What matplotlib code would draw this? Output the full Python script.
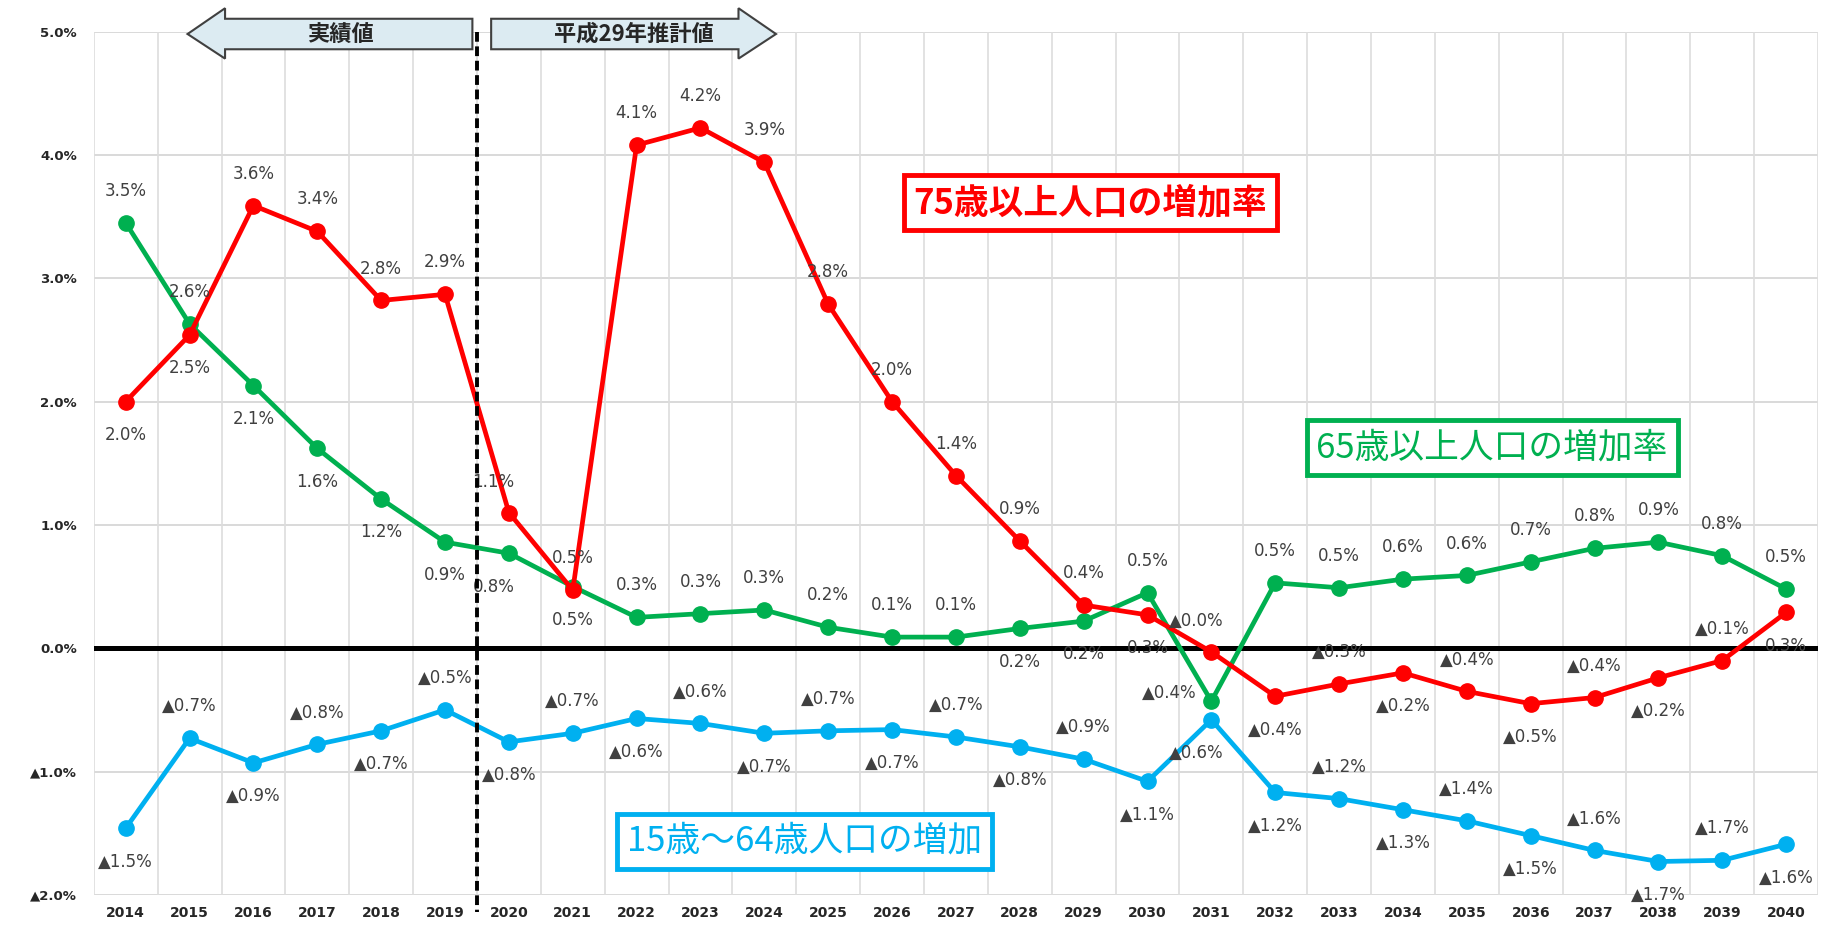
import matplotlib
matplotlib.use("Agg")
import matplotlib.pyplot as plt
from matplotlib.patches import Polygon
import numpy as np

plt.rcParams['font.family'] = ['DejaVu Sans', 'Noto Sans CJK JP']

years = [str(y) for y in range(2014, 2041)]

rate75 = [2.00, 2.54, 3.59, 3.38, 2.82, 2.87, 1.10, 0.47, 4.08, 4.22, 3.94, 2.79, 2.00, 1.40,
          0.87, 0.35, 0.27, -0.03, -0.39, -0.29, -0.20, -0.35, -0.45, -0.40, -0.24, -0.10, 0.29]
lab75 = ["2.0%", "2.5%", "3.6%", "3.4%", "2.8%", "2.9%", "1.1%", "0.5%", "4.1%", "4.2%", "3.9%",
         "2.8%", "2.0%", "1.4%", "0.9%", "0.4%", "0.3%", "▲0.0%", "▲0.4%", "▲0.3%", "▲0.2%",
         "▲0.4%", "▲0.5%", "▲0.4%", "▲0.2%", "▲0.1%", "0.3%"]
pos75 = "bbaaaaLaaaaaaaaabLbabababab"

rate65 = [3.45, 2.63, 2.13, 1.62, 1.21, 0.86, 0.77, 0.50, 0.25, 0.28, 0.31, 0.17, 0.09, 0.09,
          0.16, 0.22, 0.45, -0.43, 0.53, 0.49, 0.56, 0.59, 0.70, 0.81, 0.86, 0.75, 0.48]
lab65 = ["3.5%", "2.6%", "2.1%", "1.6%", "1.2%", "0.9%", "0.8%", "0.5%", "0.3%", "0.3%", "0.3%",
         "0.2%", "0.1%", "0.1%", "0.2%", "0.2%", "0.5%", "▲0.4%", "0.5%", "0.5%", "0.6%",
         "0.6%", "0.7%", "0.8%", "0.9%", "0.8%", "0.5%"]
pos65 = "aabbbbMbaaaaaabbalaaaaaaaaa"

rate1564 = [-1.46, -0.73, -0.93, -0.78, -0.67, -0.50, -0.76, -0.69, -0.57, -0.61, -0.69, -0.67,
            -0.66, -0.72, -0.80, -0.90, -1.08, -0.58, -1.17, -1.22, -1.31, -1.40, -1.52, -1.64,
            -1.73, -1.72, -1.59]
lab1564 = ["▲1.5%", "▲0.7%", "▲0.9%", "▲0.8%", "▲0.7%", "▲0.5%", "▲0.8%", "▲0.7%", "▲0.6%",
           "▲0.6%", "▲0.7%", "▲0.7%", "▲0.7%", "▲0.7%", "▲0.8%", "▲0.9%", "▲1.1%", "▲0.6%",
           "▲1.2%", "▲1.2%", "▲1.3%", "▲1.4%", "▲1.5%", "▲1.6%", "▲1.7%", "▲1.7%", "▲1.6%"]
pos1564 = "babababababababab" + "Mb" + "abababab"

yticks = [-2, -1, 0, 1, 2, 3, 4, 5]
ytick_labels = ["▲2.0%", "▲1.0%", "0.0%", "1.0%", "2.0%", "3.0%", "4.0%", "5.0%"]

RED = "#ff0000"
GREEN = "#00b050"
BLUE = "#00b0f0"
LABEL_C = "#404040"

W, H = 1568, 793  # reference coordinate frame (reduced)
fig = plt.figure(figsize=(18.38, 9.30), dpi=100)
ax = fig.add_axes([80 / W, 1 - 763 / H, (1551 - 80) / W, (763 - 27) / H])

x = np.arange(len(years))
ax.set_xlim(-0.5, len(years) - 0.5)
ax.set_ylim(-2, 5)

# grid
for yv in yticks:
    ax.axhline(yv, color="#d9d9d9", lw=1.4, zorder=0)
for xb in np.arange(-0.5, len(years), 1.0):
    ax.axvline(xb, color="#dddddd", lw=1.2, zorder=0)
ax.axhline(0, color="black", lw=3.6, zorder=1)

for s in ax.spines.values():
    s.set_visible(False)

ax.set_xticks(x)
ax.set_xticklabels(years, fontsize=10, fontweight="bold", color="#262626")
ax.set_yticks(yticks)
ax.set_yticklabels(ytick_labels, fontsize=9.5, fontweight="bold", color="#262626")
ax.tick_params(axis="both", length=0)
ax.tick_params(axis="x", pad=8)
ax.tick_params(axis="y", pad=12)

series = [
    (rate65, lab65, pos65, GREEN),
    (rate75, lab75, pos75, RED),
    (rate1564, lab1564, pos1564, BLUE),
]
offsets = {
    "a": (0, 23),
    "b": (0, -24),
    "L": (-11, 22),
    "M": (-11, -24),
    "l": (-30, 6),
}
for vals, labs, pos, col in series:
    ax.plot(x, vals, color=col, lw=3.4, marker="o", markersize=11, zorder=3,
            solid_joinstyle="round")
    for xi, v, lb, p in zip(x, vals, labs, pos):
        dx, dy = offsets[p]
        ax.annotate(lb, (xi, v), xytext=(dx, dy), textcoords="offset points",
                    ha="center", va="center", fontsize=12, color=LABEL_C, zorder=4)

# dashed divider between actual and projected values
trans = matplotlib.transforms.blended_transform_factory(ax.transData, ax.transAxes)
ax.plot([5.5, 5.5], [1.0, -0.02], transform=trans, color="black", lw=2.8,
        linestyle=(0, (2.5, 1.2)), clip_on=False, zorder=5)

# series name boxes
jp = ["Noto Sans CJK JP", "DejaVu Sans"]
ax.text(0.578, 0.802, "75歳以上人口の増加率", transform=ax.transAxes, ha="center", va="center",
        fontsize=25, fontweight="bold", color=RED, family=jp, zorder=6,
        bbox=dict(boxstyle="square,pad=0.28", fc="white", ec=RED, lw=3.5))
ax.text(0.811, 0.518, "65歳以上人口の増加率", transform=ax.transAxes, ha="center", va="center",
        fontsize=25, color=GREEN, family=jp, zorder=6,
        bbox=dict(boxstyle="square,pad=0.28", fc="white", ec=GREEN, lw=3.5))
ax.text(0.412, 0.062, "15歳～64歳人口の増加", transform=ax.transAxes, ha="center", va="center",
        fontsize=25, color=BLUE, family=jp, zorder=6,
        bbox=dict(boxstyle="square,pad=0.28", fc="white", ec=BLUE, lw=3.5))

# top arrows
def fig_pts(pts):
    return [(px / W, 1 - py / H) for px, py in pts]

left_arrow = [(160, 29), (192, 7), (192, 16), (403, 16), (403, 42), (192, 42), (192, 50)]
right_arrow = [(419, 16), (630, 16), (630, 7), (662, 29), (630, 50), (630, 42), (419, 42)]
for pts in (left_arrow, right_arrow):
    fig.patches.append(Polygon(fig_pts(pts), closed=True, transform=fig.transFigure,
                               fc="#dcebf2", ec="#404040", lw=1.5, zorder=10))
fig.text(290 / W, 1 - 29 / H, "実績値", ha="center", va="center", fontsize=16,
         fontweight="bold", family=jp, color="#262626", zorder=11)
fig.text(541 / W, 1 - 29 / H, "平成29年推計値", ha="center", va="center", fontsize=16,
         fontweight="bold", family=jp, color="#262626", zorder=11)

fig.savefig("out.png", dpi=100, facecolor="white")
